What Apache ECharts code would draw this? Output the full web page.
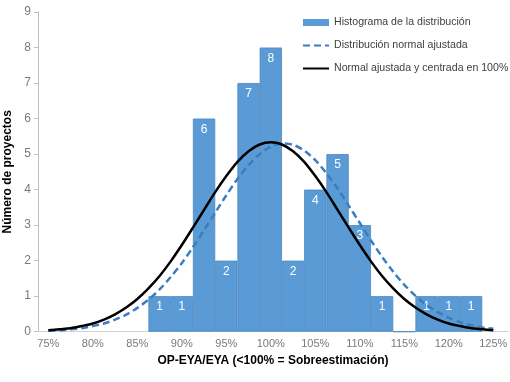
<!DOCTYPE html>
<html><head><meta charset="utf-8">
<script src="https://cdn.jsdelivr.net/npm/echarts@6/dist/echarts.min.js"></script>
<style>html,body{margin:0;padding:0;background:#fff}#c{width:510px;height:382px}</style>
</head><body><div id="c"></div>
<script>
// Histogram bins (centre of bin, %)
const binCenters = [87.5, 90, 92.5, 95, 97.5, 100, 102.5, 105, 107.5, 110, 112.5, 115, 117.5, 120, 122.5];
const binCounts  = [1, 1, 6, 2, 7, 8, 2, 4, 5, 3, 1, 0, 1, 1, 1];
// Curves
const curveX = [75, 76.25, 77.5, 78.75, 80, 81.25, 82.5, 83.75, 85, 86.25, 87.5, 88.75, 90, 91.25, 92.5, 93.75, 95, 96.25, 97.5, 98.75,
                100, 101.25, 102.5, 103.75, 105, 106.25, 107.5, 108.75, 110, 111.25, 112.5, 113.75, 115, 116.25, 117.5, 118.75, 120, 121.25, 122.5, 123.75, 125];
const fittedNormal   = [0.03, 0.04, 0.07, 0.10, 0.16, 0.23, 0.34, 0.48, 0.67, 0.90, 1.19, 1.54, 1.93, 2.38, 2.86, 3.35, 3.84, 4.30, 4.69, 5.00,
                        5.21, 5.30, 5.26, 5.10, 4.83, 4.46, 4.03, 3.55, 3.06, 2.57, 2.11, 1.69, 1.32, 1.01, 0.75, 0.55, 0.39, 0.27, 0.18, 0.12, 0.08];
const centeredNormal = [0.04, 0.07, 0.10, 0.16, 0.23, 0.34, 0.49, 0.68, 0.92, 1.22, 1.57, 1.98, 2.44, 2.93, 3.43, 3.93, 4.38, 4.78, 5.08, 5.27,
                        5.33, 5.27, 5.08, 4.78, 4.38, 3.93, 3.43, 2.93, 2.44, 1.98, 1.57, 1.22, 0.92, 0.68, 0.49, 0.34, 0.23, 0.16, 0.10, 0.07, 0.04];
const xTickValues = [75, 80, 85, 90, 95, 100, 105, 110, 115, 120, 125];
const seriesNames = ['Histograma de la distribución', 'Distribución normal ajustada', 'Normal ajustada y centrada en 100%'];

const zip = (a, b) => a.map((v, i) => [v, b[i]]);
const chart = echarts.init(document.getElementById('c'));
const font = 'Liberation Sans, Arial, sans-serif';
chart.setOption({
  animation: false,
  textStyle: { fontFamily: font },
  grid: { left: 38, right: 2, top: 12, bottom: 50.3, containLabel: false, outerBoundsMode: 'none' },
  legend: {
    orient: 'vertical', left: 302, top: 15.5, itemWidth: 26, itemHeight: 7, itemGap: 9, padding: 0,
    textStyle: { color: '#404040', fontSize: 10.6, fontFamily: font, lineHeight: 14 },
    data: [
      { name: seriesNames[0], icon: 'rect', itemStyle: { borderWidth: 0 } },
      { name: seriesNames[1], itemStyle: { opacity: 0 } },
      { name: seriesNames[2], itemStyle: { opacity: 0 } }
    ]
  },
  xAxis: {
    type: 'value', min: 73.84, max: 126.65,
    name: 'OP-EYA/EYA (<100% = Sobreestimación)', nameLocation: 'middle', nameGap: 20,
    nameTextStyle: { fontWeight: 'bold', fontSize: 12, color: '#000', fontFamily: font },
    axisLine: { show: true, lineStyle: { color: '#d0d0d0', width: 1 } },
    axisTick: { show: false },
    splitLine: { show: false },
    axisLabel: { customValues: xTickValues, formatter: v => v + '%', color: '#7a7a7a', fontSize: 11, margin: 7, fontFamily: font }
  },
  yAxis: {
    type: 'value', min: 0, max: 9, interval: 1,
    name: 'Número de proyectos', nameLocation: 'middle', nameGap: 24, nameRotate: 90,
    nameTextStyle: { fontWeight: 'bold', fontSize: 12, color: '#000', fontFamily: font },
    axisLine: { show: true, lineStyle: { color: '#bfbfbf', width: 1 } },
    axisTick: { show: true, length: 4, lineStyle: { color: '#bfbfbf' } },
    splitLine: { show: false },
    axisLabel: { color: '#7a7a7a', fontSize: 12, margin: 7, fontFamily: font }
  },
  series: [
    {
      name: seriesNames[0], type: 'bar', data: zip(binCenters, binCounts), barWidth: 22.3, z: 1,
      itemStyle: { color: '#5b9bd5', borderColor: '#4a86c2', borderWidth: 0.8 },
      label: { show: true, position: 'insideTop', distance: 5, color: '#fff', fontSize: 12, fontFamily: font,
               formatter: p => (p.value[1] ? String(p.value[1]) : '') }
    },
    {
      name: seriesNames[1], type: 'line', data: zip(curveX, fittedNormal), smooth: 0.3, symbol: 'none', z: 3,
      lineStyle: { color: '#3a7dc0', width: 2.5, type: [7, 4] }, itemStyle: { color: '#3a7dc0' }
    },
    {
      name: seriesNames[2], type: 'line', data: zip(curveX, centeredNormal), smooth: 0.3, symbol: 'none', z: 4,
      lineStyle: { color: '#000', width: 2.5 }, itemStyle: { color: '#000' }
    }
  ]
});
</script></body></html>
